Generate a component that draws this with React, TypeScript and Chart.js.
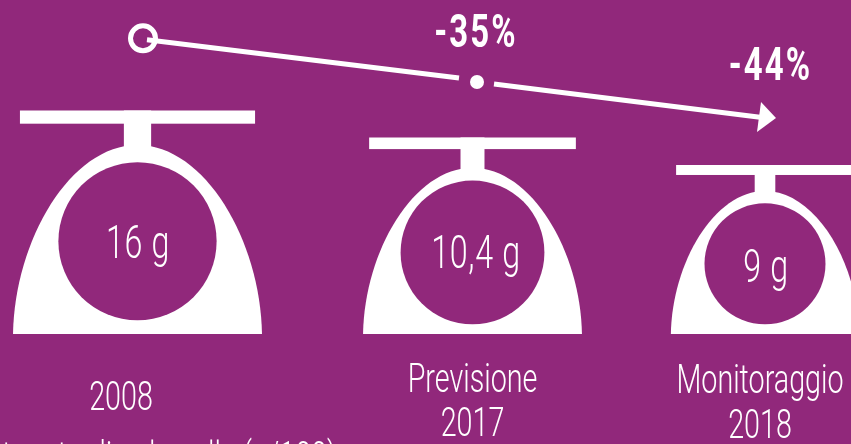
import React, { useEffect, useRef } from "react";
import { Chart, registerables, LinearScale, CategoryScale } from "chart.js";

// ---- data ----
const categories = [["2008"], ["Previsione", "2017"], ["Monitoraggio", "2018"]];
const grams = [16, 10.4, 9];
const gramLabels = ["16 g", "10,4 g", "9 g"];
const changes = [0, -35, -44];
const changeLabels = ["", "-35%", "-44%"];
const footnote = "Contenuto di sale nelle (g/100)";

// ---- axis layout: the icons are not drawn to a linear scale in the source ----
const X_PIXELS = [137.5, 472.5, 765];
const AXIS_STOPS: Record<string, [number, number][]> = {
  grams: [[0, 334], [9, 165], [10.4, 137.5], [16, 110.5]],
  change: [[-44, 118], [-35, 82], [0, 38.3]],
};

class StopLinearScale extends LinearScale {
  static id = "stopLinear";
  static defaults = {};
  getPixelForValue(v: number) {
    const s = AXIS_STOPS[(this as any).id];
    for (let i = 1; i < s.length; i++) {
      if (v <= s[i][0]) {
        const t = (v - s[i - 1][0]) / (s[i][0] - s[i - 1][0]);
        return s[i - 1][1] + t * (s[i][1] - s[i - 1][1]);
      }
    }
    return s[s.length - 1][1];
  }
}
class StopCategoryScale extends CategoryScale {
  static id = "stopCategory";
  static defaults = {};
  getPixelForValue(v: number) {
    return X_PIXELS[v];
  }
}
Chart.register(...registerables, StopLinearScale, StopCategoryScale);

const BG = "#91287b";
const WHITE = "#ffffff";
const CIRCLE_RATIO = [0.354, 0.366, 0.358];
const LABEL_X_SHIFT = [-16.5, 0, -5];
const VALUE_X_SHIFT = [0.5, 3.5, 1];
const VALUE_BASELINE = [258, 268, 282];
const LABEL_BASELINES = [[410], [392, 436], [393, 438]];
const LIGHT = "300 41px Roboto";
const VALUE = "300 46px Roboto";
const BOLD = "700 47px Roboto";
const SX = 0.7;

function text(
  ctx: CanvasRenderingContext2D,
  s: string,
  x: number,
  y: number,
  font: string,
  sx = SX,
  spacing = "0px"
) {
  ctx.save();
  ctx.font = font;
  (ctx as any).letterSpacing = spacing;
  ctx.textAlign = "center";
  ctx.textBaseline = "alphabetic";
  ctx.fillStyle = WHITE;
  ctx.translate(x, y);
  ctx.scale(sx, 1);
  ctx.fillText(s, 0, 0);
  ctx.restore();
}

function drawIcon(ctx: CanvasRenderingContext2D, x: number, top: number, base: number, i: number) {
  const h = base - top;
  ctx.fillStyle = WHITE;
  // plate + stem
  ctx.fillRect(x - 0.526 * h, top, 1.052 * h, 0.059 * h);
  ctx.fillRect(x - 0.061 * h, top, 0.122 * h, 0.2 * h);
  // dome
  ctx.beginPath();
  ctx.moveTo(x - 0.557 * h, base);
  ctx.bezierCurveTo(x - 0.55 * h, base - 0.42 * h, x - 0.3 * h, base - 0.846 * h, x, base - 0.846 * h);
  ctx.bezierCurveTo(x + 0.3 * h, base - 0.846 * h, x + 0.55 * h, base - 0.42 * h, x + 0.557 * h, base);
  ctx.closePath();
  ctx.fill();
  // dial
  ctx.fillStyle = BG;
  ctx.beginPath();
  ctx.arc(x, base - 0.415 * h, CIRCLE_RATIO[i] * h, 0, Math.PI * 2);
  ctx.fill();
}

function segment(ctx: CanvasRenderingContext2D, x0: number, y0: number, x1: number, y1: number) {
  ctx.beginPath();
  ctx.moveTo(x0, y0);
  ctx.lineTo(x1, y1);
  ctx.stroke();
}

const infographic = {
  id: "infographic",
  afterDatasetsDraw(chart: any) {
    const ctx: CanvasRenderingContext2D = chart.ctx;
    const bars = chart.getDatasetMeta(0).data;
    const pts = chart.getDatasetMeta(1).data;
    ctx.save();

    bars.forEach((b: any, i: number) => {
      drawIcon(ctx, b.x, b.y, b.base, i);
      text(ctx, gramLabels[i], b.x + VALUE_X_SHIFT[i], VALUE_BASELINE[i], VALUE, 0.7, "1px");
      categories[i].forEach((line, k) => {
        text(ctx, line, b.x + LABEL_X_SHIFT[i], LABEL_BASELINES[i][k], LIGHT);
      });
    });

    // trend arrow
    const start = { x: pts[0].x + 5.5, y: pts[0].y };
    const mid = { x: pts[1].x + 4.5, y: pts[1].y };
    const tip = { x: pts[2].x + 11, y: pts[2].y };
    const slope = (tip.y - start.y) / (tip.x - start.x);
    const at = (x: number) => start.y + (x - start.x) * slope;
    ctx.strokeStyle = WHITE;
    ctx.lineWidth = 5;
    segment(ctx, start.x + 4, at(start.x + 4) + 1, 459, at(459));
    segment(ctx, 494, at(494) + 1.5, tip.x - 14, tip.y - 0.5);
    ctx.beginPath();
    ctx.arc(start.x, start.y, 12.5, 0, Math.PI * 2);
    ctx.stroke();
    ctx.fillStyle = WHITE;
    ctx.beginPath();
    ctx.arc(mid.x, mid.y, 7, 0, Math.PI * 2);
    ctx.fill();
    ctx.beginPath();
    ctx.moveTo(tip.x, tip.y);
    ctx.lineTo(tip.x - 15, tip.y - 16);
    ctx.lineTo(tip.x - 19, tip.y + 14);
    ctx.closePath();
    ctx.fill();

    // percentages
    text(ctx, changeLabels[1], pts[1].x + 3.5, pts[1].y - 35, BOLD, 0.7, "3px");
    text(ctx, changeLabels[2], pts[2].x + 5.5, pts[2].y - 38, BOLD, 0.7, "3px");

    // footnote, cut by the bottom edge in the source
    text(ctx, footnote, 144, 470, LIGHT);
    ctx.restore();
  },
};

export default function App() {
  const ref = useRef<HTMLCanvasElement | null>(null);
  useEffect(() => {
    const chart = new Chart(ref.current as HTMLCanvasElement, {
      type: "bar",
      data: {
        labels: categories.map((c) => c.join(" ")),
        datasets: [
          { label: "Grammi", data: grams, backgroundColor: "transparent", yAxisID: "grams" },
          {
            type: "line",
            label: "Variazione",
            data: changes,
            yAxisID: "change",
            showLine: false,
            pointRadius: 0,
            borderWidth: 0,
          },
        ],
      } as any,
      options: {
        responsive: false,
        animation: false,
        layout: { padding: 0 },
        plugins: { legend: { display: false }, tooltip: { enabled: false }, title: { display: false } },
        scales: {
          x: { type: "stopCategory", display: false },
          grams: { type: "stopLinear", display: false, min: 0, max: 20, axis: "y" },
          change: { type: "stopLinear", display: false, min: -50, max: 0, axis: "y" },
        },
      } as any,
      plugins: [infographic],
    });
    return () => chart.destroy();
  }, []);
  return (
    <div style={{ position: "fixed", left: 0, top: 0, width: 851, height: 444, background: BG, overflow: "hidden" }}>
      <canvas ref={ref} width={851} height={444} style={{ display: "block" }} />
    </div>
  );
}
